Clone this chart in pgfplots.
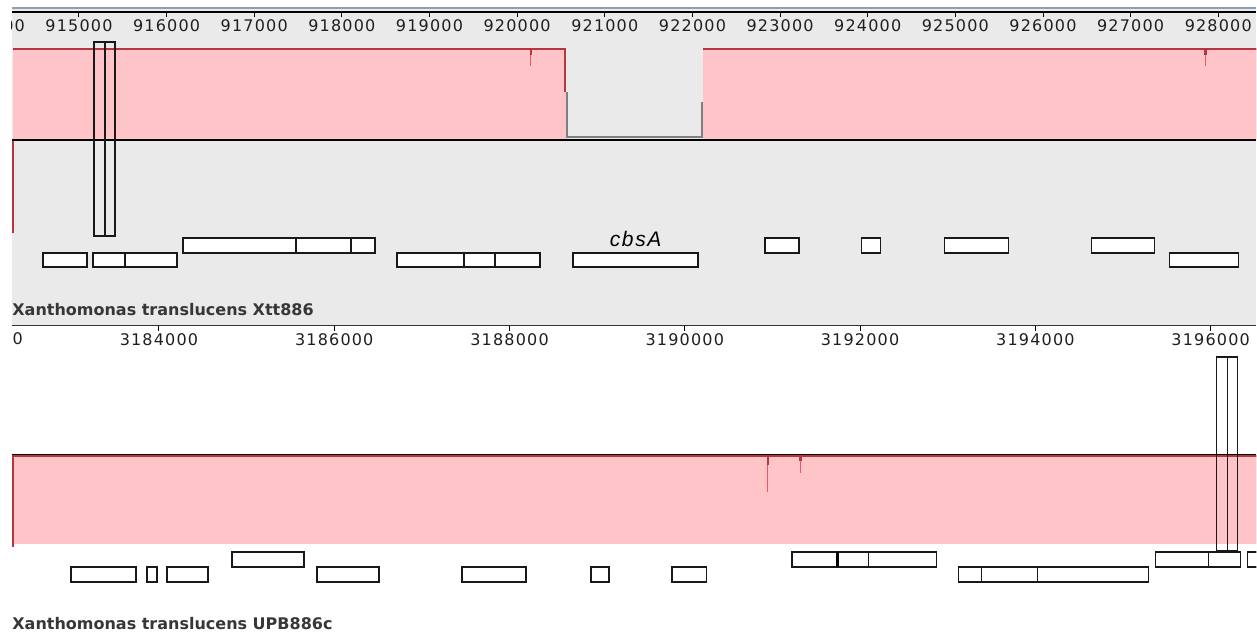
\documentclass[border=0pt]{standalone}
\usepackage{fontspec}
\setmainfont{DejaVu Sans}
\newfontfamily\tickfont[LetterSpace=7.5]{DejaVu Sans}
\newfontfamily\genefont[LetterSpace=8]{Liberation Sans}
\usepackage{pgfplots}
\pgfplotsset{compat=1.18}
\definecolor{bggray}{RGB}{234,234,234}
\definecolor{simpink}{RGB}{255,196,199}
\definecolor{simred}{RGB}{184,52,62}
\definecolor{dipred}{RGB}{235,90,100}
\definecolor{gapgray}{RGB}{128,128,128}
\definecolor{rulerblue}{RGB}{140,160,180}
\definecolor{labelgray}{RGB}{55,55,55}
\pgfplotsset{
  panel/.style={
    scale only axis, width=622.5pt,
    axis x line=top, axis y line=none,
    x axis line style={-, line width=0.6pt, black},
    ytick=\empty,
    xtick align=inside,
    major tick length=2.7pt,
    xtick style={black, line width=0.5pt},
    xticklabel style={font=\tickfont\fontsize{8}{9.6}\selectfont, anchor=north, inner xsep=0pt, text=black!88},
    scaled x ticks=false,
    /pgf/number format/fixed, /pgf/number format/precision=0,
    /pgf/number format/1000 sep={}, /pgf/number format/assume math mode=true,
  },
  genebox/.style={fill=white, draw=black!90, line width=0.85pt, line join=miter},
  tallbox/.style={draw=black!90, line width=0.75pt, fill=none},
}
\newcommand{\gene}[4]{\addplot[genebox] coordinates {(#1,#3)(#2,#3)(#2,#4)(#1,#4)} -- cycle;}
\newcommand{\tall}[4]{\addplot[tallbox] coordinates {(#1,#3)(#2,#3)(#2,#4)(#1,#4)} -- cycle;}
\begin{document}
\begin{tikzpicture}
\path (0pt,0pt) rectangle (628.5pt,318.5pt);
\fill[bggray] (6pt,312pt) rectangle (628.5pt,314.5pt);
\draw[rulerblue, line width=0.6pt] (6pt,314.5pt) -- (628.5pt,314.5pt);
% ---------------- top panel: Xtt886 ----------------
\begin{axis}[panel,
  at={(6pt,156pt)}, anchor=south west, height=156.5pt,
  xmin=914236, xmax=928435, ymin=-185, ymax=128,
  axis background/.style={fill=bggray},
  xtick={915000,916000,917000,918000,919000,920000,921000,922000,923000,924000,925000,926000,927000,928000},
  xticklabel style={yshift=-0.5pt},
]
% clipped label of the tick just left of the view
\begin{pgfinterruptboundingbox}
\node[anchor=base, inner sep=0, font=\tickfont\fontsize{8}{9.6}\selectfont, text=black!88] at (axis cs:914000,108.5) {914000};
\end{pgfinterruptboundingbox}
% similarity profile
\addplot[draw=none, fill=simpink] coordinates {(914247,0)(914247,91)(920560,91)(920560,0)};
\addplot[draw=none, fill=simpink] coordinates {(922117,0)(922117,91)(928500,91)(928500,0)};
\addplot[simred, line width=1pt] coordinates {(914247,0)(914247,-70)};
\addplot[simred, line width=0.6pt] coordinates {(914247,0)(914247,-93)};
\addplot[dipred, line width=0.5pt] coordinates {(920155,91)(920155,74)};
\addplot[simred, line width=1.1pt] coordinates {(920155,91)(920155,85)};
\addplot[dipred, line width=0.5pt] coordinates {(927853,91)(927853,74)};
\addplot[simred, line width=1.1pt] coordinates {(927853,91)(927853,85)};
\addplot[gapgray, line width=1pt] coordinates {(920566,48)(920566,2.5)(922106,2.5)(922106,38)};
\addplot[simred, line width=1.2pt] coordinates {(914247,91)(920545,91)(920545,48)};
\addplot[simred, line width=1.2pt] coordinates {(922117,91)(928500,91)};
\addplot[black, line width=0.7pt] coordinates {(914236,0)(928435,0)};
% highlighted region
\tall{915171}{915297}{98}{-96}
\tall{915297}{915411}{98}{-96}
% genes, upper row
\gene{916186}{917475}{-98}{-113}
\gene{917475}{918102}{-98}{-113}
\gene{918102}{918376}{-98}{-113}
\gene{922824}{923212}{-98}{-113}
\gene{923930}{924147}{-98}{-113}
\gene{924877}{925607}{-98}{-113}
\gene{926553}{927272}{-98}{-113}
% genes, lower row
\gene{914589}{915091}{-113}{-127}
\gene{915160}{915525}{-113}{-127}
\gene{915525}{916118}{-113}{-127}
\gene{918627}{919391}{-113}{-127}
\gene{919391}{919744}{-113}{-127}
\gene{919744}{920258}{-113}{-127}
\gene{920634}{922060}{-113}{-127}
\gene{927443}{928230}{-113}{-127}
\node[anchor=base, inner sep=0, font=\genefont\itshape\fontsize{10.5}{12}\selectfont] at (axis cs:921352,-107) {cbsA};
\node[anchor=base west, inner sep=0, text=labelgray, font=\bfseries\fontsize{8}{9.6}\selectfont] at (axis cs:914236,-176) {Xanthomonas translucens Xtt886};
\end{axis}
% ---------------- bottom panel: UPB886c ----------------
\begin{axis}[panel,
  at={(6pt,0pt)}, anchor=south west, height=155.5pt,
  xmin=3182323, xmax=3196522, ymin=-182, ymax=129,
  xtick={3184000,3186000,3188000,3190000,3192000,3194000,3196000},
  xticklabel style={yshift=-0.5pt},
  x axis line style={black!80},
]
\begin{pgfinterruptboundingbox}
\node[anchor=base, inner sep=0, font=\tickfont\fontsize{8}{9.6}\selectfont, text=black!88] at (axis cs:3182000,110) {3182000};
\end{pgfinterruptboundingbox}
\addplot[draw=none, fill=simpink] coordinates {(3182334,0)(3182334,-89)(3196600,-89)(3196600,0)};
\addplot[simred, line width=0.6pt] coordinates {(3182334,0)(3182334,-92)};
\addplot[dipred, line width=0.5pt] coordinates {(3190945,0)(3190945,-37)};
\addplot[simred, line width=1.1pt] coordinates {(3190945,0)(3190945,-10)};
\addplot[dipred, line width=0.5pt] coordinates {(3191321,0)(3191321,-18)};
\addplot[simred, line width=1.1pt] coordinates {(3191321,0)(3191321,-6)};
\addplot[simred, line width=0.9pt] coordinates {(3182334,-1.3)(3196600,-1.3)};
\addplot[black, line width=0.7pt] coordinates {(3182323,0)(3196522,0)};
% highlighted region
\tall{3196066}{3196191}{98}{-96}
\tall{3196191}{3196305}{98}{-96}
% genes, upper row
\gene{3184832}{3185653}{-97}{-112}
\gene{3191219}{3191743}{-97}{-112}
\gene{3191743}{3192097}{-97}{-112}
\gene{3192097}{3192872}{-97}{-112}
\gene{3195370}{3195975}{-97}{-112}
\gene{3195975}{3196340}{-97}{-112}
\gene{3196419}{3196898}{-97}{-112}
\addplot[black, line width=1.4pt] coordinates {(3191743,-97)(3191743,-112)};
% genes, lower row
\gene{3182996}{3183737}{-112}{-127}
\gene{3183863}{3183977}{-112}{-127}
\gene{3184091}{3184558}{-112}{-127}
\gene{3185801}{3186508}{-112}{-127}
\gene{3187455}{3188185}{-112}{-127}
\gene{3188926}{3189132}{-112}{-127}
\gene{3189850}{3190249}{-112}{-127}
\gene{3193123}{3193386}{-112}{-127}
\gene{3193386}{3194024}{-112}{-127}
\gene{3194024}{3195290}{-112}{-127}
\node[anchor=base west, inner sep=0, text=labelgray, font=\bfseries\fontsize{8}{9.6}\selectfont] at (axis cs:3182323,-175) {Xanthomonas translucens UPB886c};
\end{axis}
\end{tikzpicture}
\end{document}
